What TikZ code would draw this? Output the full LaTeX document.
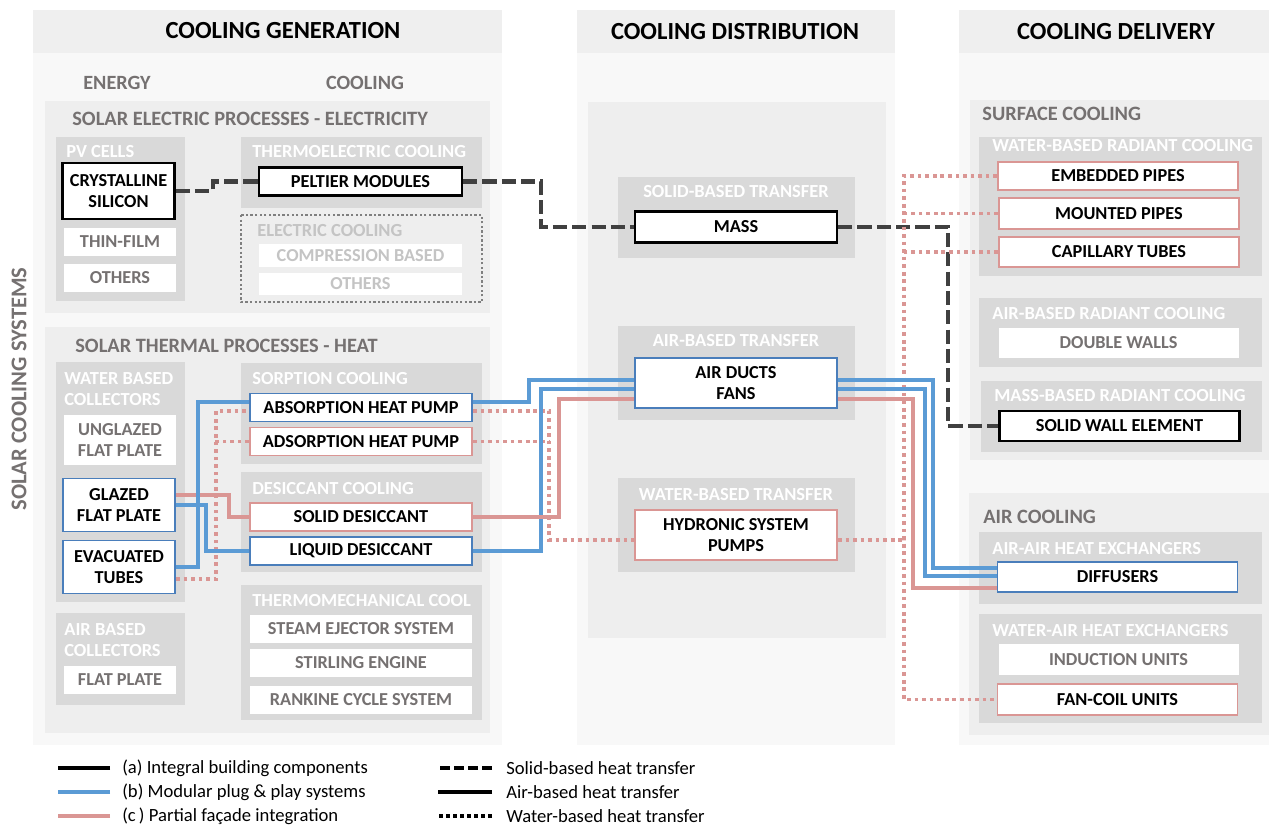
\documentclass[tikz,border=0pt]{standalone}
\usepackage{fontspec}
\setmainfont{Carlito}
\usetikzlibrary{positioning}

\definecolor{bandfill}{HTML}{EFEFEF}
\definecolor{colfill}{HTML}{F8F8F8}
\definecolor{grpfill}{HTML}{EEEEEE}
\definecolor{subfill}{HTML}{D9D9D9}
\definecolor{txtgray}{HTML}{757171}
\definecolor{fadegray}{HTML}{C4C4C4}
\definecolor{dotgray}{HTML}{7F7F7F}
\definecolor{plugblue}{HTML}{5B9BD5}
\definecolor{boxblue}{HTML}{4A7EBB}
\definecolor{facred}{HTML}{DA9694}
\definecolor{darkline}{HTML}{404040}

\tikzset{
  hdr/.style={font=\fontsize{14}{16}\selectfont\bfseries, text=black},
  seclabel/.style={font=\fontsize{11.6}{13}\selectfont\bfseries, text=txtgray, anchor=west, inner sep=0pt},
  sublabel/.style={font=\fontsize{10.5}{12.5}\selectfont\bfseries, text=white, anchor=west, align=left, inner sep=0pt},
  item/.style={draw=black, line width=1.3pt, fill=white, inner sep=0pt, align=center,
    font=\fontsize{10.4}{12}\selectfont\bfseries, text=black},
  blueitem/.style={item, draw=boxblue, line width=1.1pt},
  reditem/.style={item, draw=facred, line width=1.1pt},
  plainitem/.style={item, draw=none, text=txtgray},
  fadeitem/.style={item, draw=none, text=fadegray},
  genl/.style={minimum width=22.4mm},
  genr/.style={minimum width=44.4mm},
  distw/.style={minimum width=40.4mm},
  delw/.style={minimum width=48mm},
  onerow/.style={minimum height=5.6mm},
  tworow/.style={minimum height=10.6mm},
  solidheat/.style={draw=darkline, line width=2.3pt, dash pattern=on 8pt off 3pt},
  plugline/.style={draw=plugblue, line width=2.3pt},
  facline/.style={draw=facred, line width=2.3pt},
  waterline/.style={draw=facred, line width=2.1pt, dash pattern=on 2.1pt off 2.2pt},
  legtext/.style={font=\fontsize{10.6}{12}\selectfont, anchor=west, inner sep=0pt}
}

\begin{document}
\begin{tikzpicture}[x=0.2mm, y=-0.2mm]
\useasboundingbox (0,0) rectangle (1269,826);

% columns
\fill[colfill] (33,53) rectangle (502,745);
\fill[colfill] (577,53) rectangle (895,745);
\fill[colfill] (959,53) rectangle (1269,745);
\fill[bandfill] (33,10) rectangle (502,53);
\fill[bandfill] (577,10) rectangle (895,53);
\fill[bandfill] (959,10) rectangle (1269,53);
\node[hdr] (hgen) at (283,31) {COOLING GENERATION};
\node[hdr] (hdist) at (735,32) {COOLING DISTRIBUTION};
\node[hdr] (hdel) at (1116,32) {COOLING DELIVERY};
\node[font=\fontsize{12.8}{14}\selectfont\bfseries, text=txtgray, rotate=90] (scs) at (19,389) {SOLAR COOLING SYSTEMS};
\node[font=\fontsize{11.5}{13}\selectfont\bfseries, text=txtgray] (energy) at (117,83) {ENERGY};
\node[font=\fontsize{11.5}{13}\selectfont\bfseries, text=txtgray] (cool) at (365,83) {COOLING};

% group boxes
\fill[grpfill] (45,101) rectangle (490,313);
\fill[grpfill] (45,327) rectangle (490,733);
\fill[grpfill] (588,102) rectangle (886,638);
\fill[grpfill] (970,100) rectangle (1269,460);
\fill[grpfill] (969,493) rectangle (1269,735);
\node[seclabel] (lelec) at (72,119) {SOLAR ELECTRIC PROCESSES - ELECTRICITY};
\node[seclabel] (ltherm) at (75,346) {SOLAR THERMAL PROCESSES - HEAT};
\node[seclabel] (lsurf) at (982,114) {SURFACE COOLING};
\node[seclabel] (lair) at (983,517) {AIR COOLING};

% sub boxes
\fill[subfill] (56,137) rectangle (185,301);
\fill[subfill] (241,137) rectangle (482,208);
\draw[dotgray, line width=1.3pt, dash pattern=on 1.3pt off 1.3pt] (241,215) rectangle (482,302);
\fill[subfill] (56,362) rectangle (185,602);
\fill[subfill] (56,613) rectangle (185,705);
\fill[subfill] (241,363) rectangle (482,464);
\fill[subfill] (241,472) rectangle (482,572);
\fill[subfill] (241,585) rectangle (482,720);
\fill[subfill] (618,177) rectangle (855,258);
\fill[subfill] (618,326) rectangle (855,420);
\fill[subfill] (618,478) rectangle (855,572);
\fill[subfill] (979,137) rectangle (1262,276);
\fill[subfill] (979,298) rectangle (1262,367);
\fill[subfill] (981,381) rectangle (1262,452);
\fill[subfill] (979,532) rectangle (1262,604);
\fill[subfill] (979,614) rectangle (1262,723);
\node[sublabel] (lpv) at (66,152) {PV CELLS};
\node[sublabel] (lteg) at (252,152) {THERMOELECTRIC COOLING};
\node[sublabel, text=fadegray] (lelc) at (257,231) {ELECTRIC COOLING};
\node[sublabel] (lwbc) at (64,389) {WATER BASED\\COLLECTORS};
\node[sublabel] (labc) at (64,640) {AIR BASED\\COLLECTORS};
\node[sublabel] (lsorp) at (252,378) {SORPTION COOLING};
\node[sublabel] (ldesi) at (252,488) {DESICCANT COOLING};
\node[sublabel] (ltmech) at (252,600) {THERMOMECHANICAL COOL};
\node[sublabel, anchor=center] (lsbt) at (736,192) {SOLID-BASED TRANSFER};
\node[sublabel, anchor=center] (labt) at (736,341) {AIR-BASED TRANSFER};
\node[sublabel, anchor=center] (lwbt) at (736,494) {WATER-BASED TRANSFER};
\node[sublabel] (lwbrc) at (992,146) {WATER-BASED RADIANT COOLING};
\node[sublabel] (labrc) at (992,314) {AIR-BASED RADIANT COOLING};
\node[sublabel] (lmbrc) at (994,396) {MASS-BASED RADIANT COOLING};
\node[sublabel] (laahe) at (992,548) {AIR-AIR HEAT EXCHANGERS};
\node[sublabel] (lwahe) at (992,630) {WATER-AIR HEAT EXCHANGERS};

% generation items
\node[item, genl, tworow, minimum height=11.2mm] (crys) at (118.5,191) {CRYSTALLINE\\SILICON};
\node[plainitem, genl, onerow] (thin) at (120,241.5) {THIN-FILM};
\node[plainitem, genl, onerow] (othpv) at (120,278) {OTHERS};
\node[item, minimum width=40.6mm, onerow] (pelt) at (360.5,181.5) {PELTIER MODULES};
\node[fadeitem, minimum width=40.6mm, minimum height=4.6mm] (comp) at (360.5,255.5) {COMPRESSION BASED};
\node[fadeitem, minimum width=40.6mm, minimum height=4.4mm] (othel) at (360.5,284) {OTHERS};
\node[plainitem, genl, minimum height=10mm] (unglz) at (120,440) {UNGLAZED\\FLAT PLATE};
\node[blueitem, genl, tworow] (glaz) at (119,505) {GLAZED\\FLAT PLATE};
\node[blueitem, genl, tworow] (evac) at (119,567) {EVACUATED\\TUBES};
\node[plainitem, genl, onerow] (flat) at (120,680) {FLAT PLATE};
\node[blueitem, genr, onerow] (absp) at (361,407.5) {ABSORPTION HEAT PUMP};
\node[reditem, genr, onerow] (adsp) at (361,441.5) {ADSORPTION HEAT PUMP};
\node[reditem, genr, onerow] (sold) at (361,517) {SOLID DESICCANT};
\node[blueitem, genr, onerow] (liqd) at (361,551) {LIQUID DESICCANT};
\node[plainitem, genr, onerow] (steam) at (361,628.5) {STEAM EJECTOR SYSTEM};
\node[plainitem, genr, onerow] (stirl) at (361,662.5) {STIRLING ENGINE};
\node[plainitem, genr, onerow] (rank) at (361,699.5) {RANKINE CYCLE SYSTEM};

% distribution items
\node[item, distw, minimum height=6.2mm] (mass) at (736,227) {MASS};
\node[blueitem, distw, minimum height=10mm] (duct) at (736,383) {AIR DUCTS\\FANS};
\node[reditem, distw, minimum height=10mm] (hydr) at (736,535) {HYDRONIC SYSTEM\\PUMPS};

% delivery items
\node[reditem, delw, onerow] (embd) at (1118,176) {EMBEDDED PIPES};
\node[reditem, delw, minimum height=6.2mm] (mount) at (1119,213.5) {MOUNTED PIPES};
\node[reditem, delw, minimum height=6mm] (capi) at (1119,252) {CAPILLARY TUBES};
\node[plainitem, delw, minimum height=6mm] (dwall) at (1118.5,343) {DOUBLE WALLS};
\node[item, delw, minimum height=6mm] (swall) at (1119.5,426) {SOLID WALL ELEMENT};
\node[blueitem, delw, minimum height=6mm] (diff) at (1117.5,577) {DIFFUSERS};
\node[plainitem, delw, minimum height=6.2mm] (induc) at (1118.5,659.5) {INDUCTION UNITS};
\node[reditem, delw, minimum height=6.2mm] (fcoil) at (1117.5,699.5) {FAN-COIL UNITS};

% solid-based heat transfer
\draw[solidheat] (crys.east) -- ++(37,0) |- (pelt.west);
\draw[solidheat] (pelt.east) -- ++(78,0) |- (mass.west);
\draw[solidheat] (mass.east) -- ++(110,0) |- (swall.west);

% water-based heat transfer
\draw[waterline] ([yshift=-2.4mm]evac.east) -- ++(40,0) |- ([yshift=-0.7mm]absp.west);
\draw[waterline] (adsp.west) -- ++(-35,0);
\draw[waterline] ([yshift=-0.7mm]absp.east) -- ++(76,0) |- ([yshift=-1mm]hydr.west);
\draw[waterline] (adsp.east) -- ++(76,0);
\draw[waterline] ([yshift=-1mm]hydr.east) -- ++(66,0) coordinate (hj);
\draw[waterline] (embd.west) -| (hj) |- (fcoil.west);
\draw[waterline] (mount.west) -- (mount.west -| hj);
\draw[waterline] (capi.west) -- (capi.west -| hj);

% air-based heat transfer
\draw[facline] ([yshift=2mm]glaz.east) -- ++(53,0) |- (sold.west);
\draw[plugline] (evac.east) -- ++(22,0) |- ([yshift=1.1mm]absp.west);
\draw[plugline] (glaz.east) -- ++(30,0) |- (liqd.west);
\draw[plugline] ([yshift=1.1mm]absp.east) -- ++(56,0) |- ([yshift=0.6mm]duct.west);
\draw[plugline] (liqd.east) -- ++(68,0) |- ([yshift=-1.2mm]duct.west);
\draw[facline] (sold.east) -- ++(86,0) |- ([yshift=-3.2mm]duct.west);
\draw[plugline] ([yshift=0.6mm]duct.east) -- ++(95,0) |- ([yshift=1.8mm]diff.west);
\draw[plugline] ([yshift=-1.2mm]duct.east) -- ++(87,0) |- ([yshift=0.2mm]diff.west);
\draw[facline] ([yshift=-3.2mm]duct.east) -- ++(75,0) |- ([yshift=-2.2mm]diff.west);

% legend
\node[legtext] (lega) at (122,768) {(a) Integral building components};
\node[legtext] (legb) at (122,792) {(b) Modular plug \& play systems};
\node[legtext] (legc) at (122,816) {(c\,) Partial façade integration};
\node[legtext] (legs) at (506,768) {Solid-based heat transfer};
\node[legtext] (legair) at (506,792) {Air-based heat transfer};
\node[legtext] (legw) at (506,816) {Water-based heat transfer};
\draw[black, line width=2.8pt] ([xshift=-2.4mm]lega.west) -- ++(-52,0);
\draw[plugblue, line width=2.8pt] ([xshift=-2.4mm]legb.west) -- ++(-52,0);
\draw[facred, line width=2.8pt] ([xshift=-2.4mm]legc.west) -- ++(-52,0);
\draw[black, line width=2.8pt, dash pattern=on 5.5pt off 2.5pt] ([xshift=-2.8mm]legs.west) -- ++(-54,0);
\draw[black, line width=2.8pt] ([xshift=-2.8mm]legair.west) -- ++(-54,0);
\draw[black, line width=2.8pt, dash pattern=on 2pt off 2pt] ([xshift=-2.8mm]legw.west) -- ++(-54,0);
\end{tikzpicture}
\end{document}
